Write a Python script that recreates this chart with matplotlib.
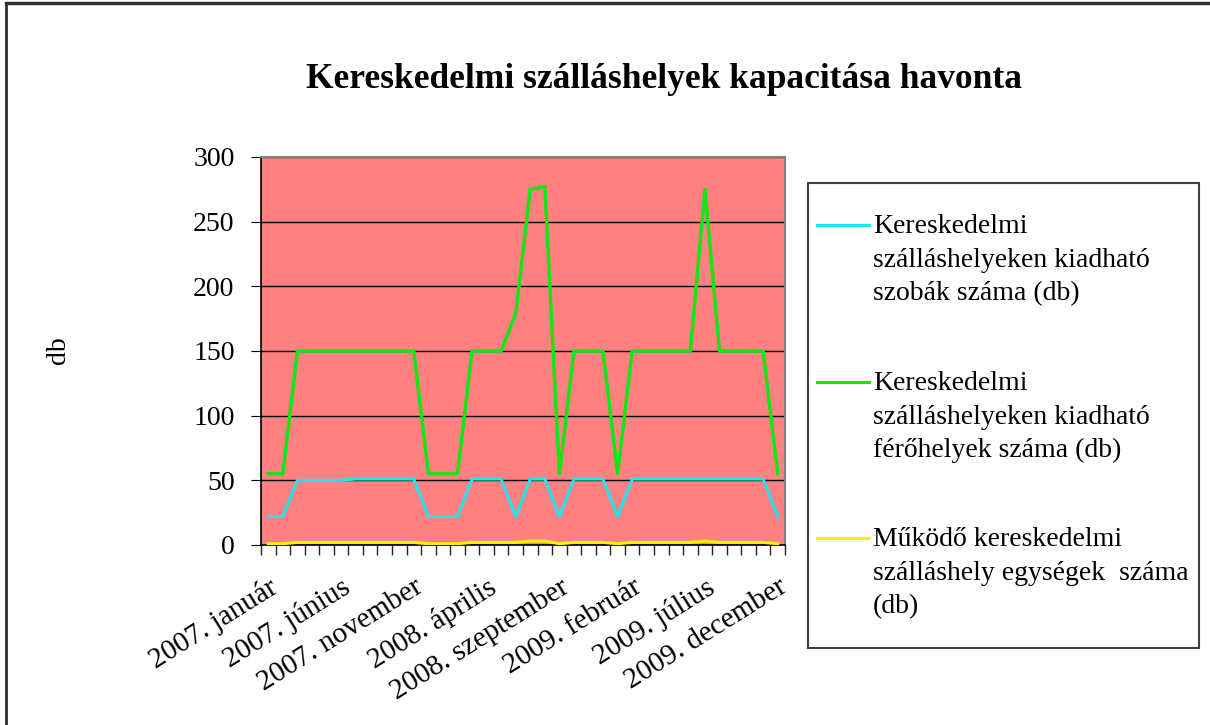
import matplotlib

matplotlib.use("Agg")
import matplotlib.pyplot as plt
from matplotlib.lines import Line2D
import numpy as np

plt.rcParams["font.family"] = ["Liberation Serif", "DejaVu Serif"]

years = [2007, 2008, 2009]
month_names = ["január", "február", "március", "április", "május", "június",
               "július", "augusztus", "szeptember", "október", "november", "december"]
categories = [f"{y}. {m}" for y in years for m in month_names]

# kiadható szobák száma (db)
rooms = [22, 22, 50, 50, 50, 50, 51, 51, 51, 51, 51, 22,
         22, 22, 51, 51, 51, 22, 51, 51, 22, 51, 51, 51,
         22, 51, 51, 51, 51, 51, 51, 51, 51, 51, 51, 22]
# kiadható férőhelyek száma (db)
beds = [55, 55, 150, 150, 150, 150, 150, 150, 150, 150, 150, 55,
        55, 55, 150, 150, 150, 179, 275, 277, 55, 150, 150, 150,
        55, 150, 150, 150, 150, 150, 275, 150, 150, 150, 150, 55]
# működő egységek száma (db)
units = [1, 1, 2, 2, 2, 2, 2, 2, 2, 2, 2, 1,
         1, 1, 2, 2, 2, 2, 3, 3, 1, 2, 2, 2,
         1, 2, 2, 2, 2, 2, 3, 2, 2, 2, 2, 1]

series_labels = [
    "Kereskedelmi\nszálláshelyeken kiadható\nszobák száma (db)",
    "Kereskedelmi\nszálláshelyeken kiadható\nférőhelyek száma (db)",
    "Működő kereskedelmi\nszálláshely egységek  száma\n(db)",
]
colors = ["#1EE6F0", "#14E614", "#F5F500"]

W, H = 1210, 725
fig = plt.figure(figsize=(W / 100, H / 100), dpi=100)


def fx(px):
    return px / W


def fy(py):
    return 1 - py / H


# outer border (top and left only, as in the screenshot)
fig.add_artist(Line2D([fx(6), 1], [fy(3), fy(3)], color="#303030", linewidth=2.5))
fig.add_artist(Line2D([fx(6), fx(6)], [fy(3), 0], color="#303030", linewidth=2))

ax = fig.add_axes([fx(261), fy(545), (785 - 261) / W, (545 - 157) / H])
ax.set_facecolor("#FF8080")

x = np.arange(len(categories))
ax.plot(x, units, color=colors[2], linewidth=2.2, zorder=3)
ax.plot(x, rooms, color=colors[0], linewidth=2.2, zorder=4)
ax.plot(x, beds, color=colors[1], linewidth=2.5, zorder=5)

ax.set_xlim(-0.5, len(categories) - 0.5)
ax.set_ylim(0, 300)
ax.set_yticks(range(0, 301, 50))
ax.yaxis.grid(True, color="black", linewidth=1.0)
ax.set_axisbelow(True)

ax.set_xticks(x[::5])
ax.set_xticklabels(categories[::5], rotation=32, ha="right", rotation_mode="anchor",
                   fontsize=21)
ax.set_xticks(np.arange(-0.5, len(categories), 1), minor=True)
ax.tick_params(axis="x", which="major", length=0, pad=21)
ax.tick_params(axis="x", which="minor", length=7, width=1, direction="out", color="#202020")
ax.tick_params(axis="y", length=7, direction="out", labelsize=20, color="black", pad=12)

for side in ["top", "right"]:
    ax.spines[side].set_color("#808080")
    ax.spines[side].set_linewidth(1.5)
for side in ["left", "bottom"]:
    ax.spines[side].set_color("black")
    ax.spines[side].set_linewidth(1.2)

fig.text(fx(58), fy(350), "db", rotation=90, fontsize=20, ha="center", va="center")
fig.text(fx(664), fy(80), "Kereskedelmi szálláshelyek kapacitása havonta",
         fontsize=25.5, fontweight="bold", ha="center", va="center")

# legend box, drawn by hand so the key line sits on the first text line
fig.patches.append(plt.Rectangle((fx(808), fy(648)), (1199 - 808) / W, (648 - 183) / H,
                                 transform=fig.transFigure, fill=False,
                                 edgecolor="#404040", linewidth=1.5))
legend_rows = [225, 382, 538]
for label, color, row in zip(series_labels, colors, legend_rows):
    fig.add_artist(Line2D([fx(817), fx(869)], [fy(row), fy(row)], color=color, linewidth=2.2))
    fig.text(fx(873), fy(row - 11), label, fontsize=20, ha="left", va="top",
             linespacing=1.45)

fig.savefig("out.png", dpi=100)
